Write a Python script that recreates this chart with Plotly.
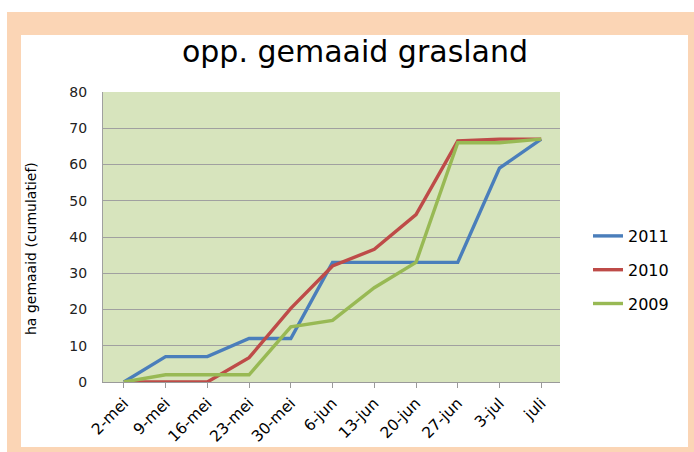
import plotly.graph_objects as go

categories = ["2-mei", "9-mei", "16-mei", "23-mei", "30-mei", "6-jun",
              "13-jun", "20-jun", "27-jun", "3-jul", "juli"]
series_2011 = [0, 7, 7, 12, 12, 33, 33, 33, 33, 59, 67]
series_2010 = [0, 0, 0, 6.7, 20.3, 32, 36.6, 46.2, 66.5, 67, 67]
series_2009 = [0, 2, 2, 2, 15.2, 17, 26, 33, 66, 66, 67]
y_ticks = [0, 10, 20, 30, 40, 50, 60, 70, 80]

W, H = 694, 452
L, R, T, B = 103, 560, 92, 382
pw, ph = R - L, B - T

def px(x):
    return (x - L) / pw

def py(y):
    return (B - y) / ph

sans = "DejaVu Sans, Verdana, sans-serif"

fig = go.Figure()
for name, vals, col, g in [("2011", series_2011, "#4a7ebb", "a"),
                           ("2010", series_2010, "#be4b48", "b"),
                           ("2009", series_2009, "#98b954", "c")]:
    fig.add_trace(go.Scatter(x=categories, y=vals, name=name, mode="lines",
                             line=dict(color=col, width=3.4), legendgroup=g))

fig.update_layout(
    width=W, height=H,
    margin=dict(l=L, r=W - R, t=T, b=H - B, autoexpand=False),
    paper_bgcolor="white",
    plot_bgcolor="#d7e4bd",
    title=dict(text="opp. gemaaid grasland", x=355 / W, xanchor="center",
               y=1 - 51 / H, yanchor="middle",
               font=dict(family=sans, size=30, color="black")),
    xaxis=dict(type="category", range=[-0.5, 10.45], showgrid=False,
               showline=True, linecolor="#9a9a9a", linewidth=1,
               ticks="outside", ticklen=5, tickcolor="#9a9a9a",
               tickangle=-45, tickfont=dict(family=sans, size=15.5, color="black")),
    yaxis=dict(range=[0, 80], tickvals=y_ticks, showgrid=True,
               gridcolor="#a0a0a0", gridwidth=1, showline=True,
               linecolor="#a0a0a0", linewidth=1, zeroline=False,
               ticks="", ticklabelstandoff=12,
               tickfont=dict(family=sans, size=14, color="#222222")),
    legend=dict(x=px(588), xanchor="left", y=py(219), yanchor="top",
                font=dict(family=sans, size=16, color="black"),
                tracegroupgap=10, bgcolor="rgba(0,0,0,0)"),
    showlegend=True,
    shapes=[
        dict(type="rect", xref="paper", yref="paper", x0=px(7), x1=px(694),
             y0=py(452), y1=py(12), fillcolor="#fbd5b5", line=dict(width=0), layer="below"),
        dict(type="rect", xref="paper", yref="paper", x0=px(21), x1=px(688),
             y0=py(447), y1=py(35), fillcolor="white", line=dict(width=0), layer="below"),
        dict(type="rect", xref="paper", yref="paper", x0=0, x1=1, y0=0, y1=1,
             fillcolor="#d7e4bd", line=dict(width=0), layer="below"),
    ],
    annotations=[dict(text="ha gemaaid (cumulatief)", xref="paper", yref="paper",
                      x=px(31), y=py(249), xanchor="center", yanchor="middle",
                      textangle=-90, showarrow=False,
                      font=dict(family=sans, size=14, color="black"))],
)

fig.write_html("out.html", config={"displayModeBar": False},
               post_script="document.body.style.margin='0';document.body.style.overflow='hidden';")
